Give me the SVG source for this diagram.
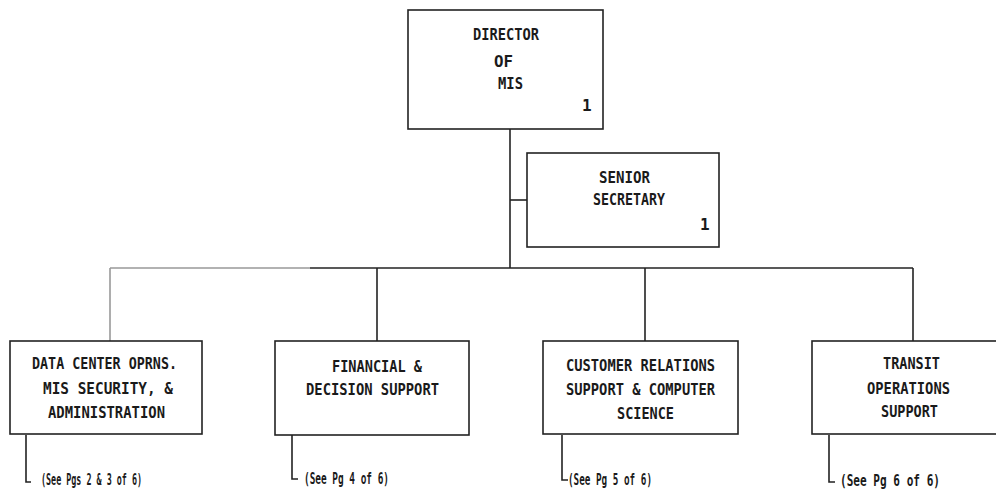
<svg xmlns="http://www.w3.org/2000/svg" width="996" height="492" viewBox="0 0 996 492">
<style>
.box{fill:#fff;stroke:#222;stroke-width:1.6}
.ln{fill:none;stroke:#222;stroke-width:1.6}
.lt{fill:none;stroke:#999;stroke-width:1.6}
.t{font-family:"DejaVu Sans Mono","Liberation Mono",monospace;font-weight:bold;font-size:16px;fill:#1a1a1a}
.s{font-family:"DejaVu Sans Mono","Liberation Mono",monospace;font-weight:bold;font-size:15px;fill:#1a1a1a}
</style>
<rect width="996" height="492" fill="#fff"/>
<g id="connectors">
<line class="ln" x1="510" y1="129" x2="510" y2="268"/>
<line class="ln" x1="510" y1="200" x2="527" y2="200"/>
<line class="lt" x1="110" y1="268" x2="310" y2="268"/>
<line class="ln" x1="310" y1="268" x2="913" y2="268"/>
<line class="lt" x1="110" y1="268" x2="110" y2="341"/>
<line class="ln" x1="377" y1="268" x2="377" y2="341"/>
<line class="ln" x1="645" y1="268" x2="645" y2="341"/>
<line class="ln" x1="913" y1="268" x2="913" y2="341"/>
<polyline class="ln" points="26,435 26,482 31,482"/>
<polyline class="ln" points="292,435 292,479 298,479"/>
<polyline class="ln" points="562,435 562,480 568,480"/>
<polyline class="ln" points="829,435 829,482 835,482"/>
</g>
<g id="director">
<rect class="box" x="408" y="10" width="195" height="119"/>
<text class="t" x="473" y="40" textLength="66" lengthAdjust="spacingAndGlyphs">DIRECTOR</text>
<text class="t" x="494" y="67" textLength="19" lengthAdjust="spacingAndGlyphs">OF</text>
<text class="t" x="498" y="89" textLength="25" lengthAdjust="spacingAndGlyphs">MIS</text>
<text class="t" x="582" y="111">1</text>
</g>
<g id="secretary">
<rect class="box" x="527" y="153" width="192" height="94"/>
<text class="t" x="599" y="183" textLength="51" lengthAdjust="spacingAndGlyphs">SENIOR</text>
<text class="t" x="593" y="205" textLength="72" lengthAdjust="spacingAndGlyphs">SECRETARY</text>
<text class="t" x="700" y="230">1</text>
</g>
<g id="datacenter">
<rect class="box" x="10" y="341" width="192" height="93"/>
<text class="t" x="32" y="369" textLength="145" lengthAdjust="spacingAndGlyphs">DATA CENTER OPRNS.</text>
<text class="t" x="43" y="394" textLength="130" lengthAdjust="spacingAndGlyphs">MIS SECURITY, &amp;</text>
<text class="t" x="48" y="418" textLength="117" lengthAdjust="spacingAndGlyphs">ADMINISTRATION</text>
<text class="s" x="41" y="485" textLength="101" lengthAdjust="spacingAndGlyphs">(See Pgs 2 &amp; 3 of 6)</text>
</g>
<g id="financial">
<rect class="box" x="275" y="341" width="194" height="94"/>
<text class="t" x="332" y="372" textLength="90" lengthAdjust="spacingAndGlyphs">FINANCIAL &amp;</text>
<text class="t" x="306" y="395" textLength="133" lengthAdjust="spacingAndGlyphs">DECISION SUPPORT</text>
<text class="s" x="304" y="484" textLength="85" lengthAdjust="spacingAndGlyphs">(See Pg 4 of 6)</text>
</g>
<g id="customer">
<rect class="box" x="543" y="341" width="195" height="93"/>
<text class="t" x="566" y="371" textLength="149" lengthAdjust="spacingAndGlyphs">CUSTOMER RELATIONS</text>
<text class="t" x="566" y="395" textLength="149" lengthAdjust="spacingAndGlyphs">SUPPORT &amp; COMPUTER</text>
<text class="t" x="617" y="419" textLength="57" lengthAdjust="spacingAndGlyphs">SCIENCE</text>
<text class="s" x="568" y="485" textLength="84" lengthAdjust="spacingAndGlyphs">(See Pg 5 of 6)</text>
</g>
<g id="transit">
<rect class="box" x="812" y="341" width="200" height="93"/>
<text class="t" x="883" y="369" textLength="57" lengthAdjust="spacingAndGlyphs">TRANSIT</text>
<text class="t" x="867" y="394" textLength="83" lengthAdjust="spacingAndGlyphs">OPERATIONS</text>
<text class="t" x="881" y="417" textLength="57" lengthAdjust="spacingAndGlyphs">SUPPORT</text>
<text class="s" x="840" y="486" textLength="100" lengthAdjust="spacingAndGlyphs">(See Pg 6 of 6)</text>
</g>
</svg>
